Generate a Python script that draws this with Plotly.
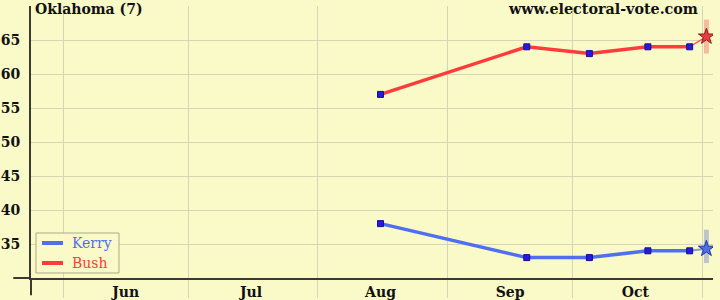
import plotly.graph_objects as go

# ---- data ----
poll_dates = ["2004-08-16", "2004-09-20", "2004-10-05", "2004-10-19", "2004-10-29"]
kerry = [38, 33, 33, 34, 34]
bush = [57, 64, 63, 64, 64]

election_date = "2004-11-02"
kerry_pred = 34.3
kerry_lo, kerry_hi = 32.2, 37.1
bush_pred = 65.5
bush_lo, bush_hi = 63.0, 68.0

series_names = ["Kerry", "Bush"]
month_labels = ["Jun", "Jul", "Aug", "Sep", "Oct"]
label_dates = ["2004-06-16", "2004-07-16", "2004-08-16", "2004-09-16", "2004-10-16"]
month_starts = ["2004-06-01", "2004-07-01", "2004-08-01", "2004-09-01", "2004-10-01", "2004-11-01"]
y_ticks = [35, 40, 45, 50, 55, 60, 65]

title_text = "Oklahoma (7)"
site_text = "www.electoral-vote.com"

# ---- style ----
BG = "#FAFAC8"
GRID = "#D6D6B4"
AXIS = "#3A3A30"
RED = "#FF3B3B"
BLUE = "#4F6EF0"
FONT = "DejaVu Serif"
SQ = dict(symbol="square", size=6, color="#2A18E0", line=dict(color="#14108A", width=1))

fig = go.Figure()

# thin connectors from last poll to prediction
fig.add_trace(go.Scatter(x=[poll_dates[-1], election_date], y=[kerry[-1], kerry_pred],
                         mode="lines", line=dict(color="#7F95F0", width=2),
                         showlegend=False, hoverinfo="skip"))
fig.add_trace(go.Scatter(x=[poll_dates[-1], election_date], y=[bush[-1], bush_pred],
                         mode="lines", line=dict(color="#FF5050", width=1.3),
                         showlegend=False, hoverinfo="skip"))

# main series
fig.add_trace(go.Scatter(x=poll_dates, y=kerry, name=series_names[0], mode="lines+markers",
                         line=dict(color=BLUE, width=3.5), marker=SQ, showlegend=False))
fig.add_trace(go.Scatter(x=poll_dates, y=bush, name=series_names[1], mode="lines+markers",
                         line=dict(color=RED, width=3.5), marker=SQ, showlegend=False))

# predictions with range bars
fig.add_trace(go.Scatter(x=[election_date], y=[kerry_pred], mode="markers", showlegend=False,
                         marker=dict(symbol="star", size=12, color="#4F6EE8",
                                     line=dict(color="#223399", width=1)),
                         error_y=dict(type="data", symmetric=False,
                                      array=[kerry_hi - kerry_pred], arrayminus=[kerry_pred - kerry_lo],
                                      color="#BCC4CC", thickness=5, width=0)))
fig.add_trace(go.Scatter(x=[election_date], y=[bush_pred], mode="markers", showlegend=False,
                         marker=dict(symbol="star", size=12, color="#E84040",
                                     line=dict(color="#8A1A1A", width=1)),
                         error_y=dict(type="data", symmetric=False,
                                      array=[bush_hi - bush_pred], arrayminus=[bush_pred - bush_lo],
                                      color="#F4BC9C", thickness=5, width=0)))

# ---- legend box (paper coordinates) ----
leg_colors = [BLUE, RED]
leg_rows_y = [0.1287, 0.0551]
shapes = [
    dict(type="line", xref="paper", yref="paper", x0=0, x1=0, y0=0, y1=-0.063,
         line=dict(color=AXIS, width=2)),
    dict(type="line", xref="paper", yref="paper", x0=0, x1=-0.026, y0=0, y1=0,
         line=dict(color=AXIS, width=2)),
    dict(type="rect", xref="paper", yref="paper", x0=0.0073, x1=0.129, y0=0.0184, y1=0.1654,
         line=dict(color="#A8A890", width=1), fillcolor=BG, layer="above"),
]
annotations = [
    dict(text=title_text, xref="paper", yref="paper", x=0, y=1, xanchor="left", yanchor="top",
         xshift=2, yshift=7, showarrow=False,
         font=dict(family=FONT, size=14, color="#111111", weight="bold")),
    dict(text=site_text, xref="paper", yref="paper", x=1, y=1, xanchor="right", yanchor="top",
         xshift=-13, yshift=7, showarrow=False,
         font=dict(family=FONT, size=14.3, color="#111111", weight="bold")),
]
for name, col, ly in zip(series_names, leg_colors, leg_rows_y):
    shapes.append(dict(type="line", xref="paper", yref="paper", x0=0.0161, x1=0.0469, y0=ly, y1=ly,
                       line=dict(color=col, width=4), layer="above"))
    annotations.append(dict(text=name, xref="paper", yref="paper", x=0.0572, y=ly,
                            xanchor="left", yanchor="middle", showarrow=False,
                            font=dict(family=FONT, size=14, color=col)))

fig.update_layout(
    width=720, height=300,
    margin=dict(l=31, r=7, t=6, b=22, autoexpand=False),
    paper_bgcolor=BG, plot_bgcolor=BG,
    font=dict(family=FONT, size=13, color="#111111"),
    showlegend=False,
    annotations=annotations,
    shapes=shapes,
)

fig.update_xaxes(
    type="date", range=["2004-05-24 08:00", "2004-11-03 14:00"], automargin=False,
    tickvals=label_dates, ticktext=month_labels, ticks="", showgrid=False,
    tickfont=dict(family=FONT, size=14, color="#111111", weight="bold"),
    showline=True, linecolor=AXIS, linewidth=2, zeroline=False,
    minor=dict(tickvals=month_starts, showgrid=True, gridcolor=GRID, gridwidth=1,
               ticks="outside", ticklen=18, tickcolor=GRID, tickwidth=1),
)
fig.update_yaxes(
    range=[30, 70], tickvals=y_ticks, ticks="", showgrid=True, gridcolor=GRID, gridwidth=1,
    automargin=False,
    tickfont=dict(family=FONT, size=14, color="#111111", weight="bold"),
    showline=True, linecolor=AXIS, linewidth=2, zeroline=False, ticklabelstandoff=6,
)

fig.write_html("out.html")
